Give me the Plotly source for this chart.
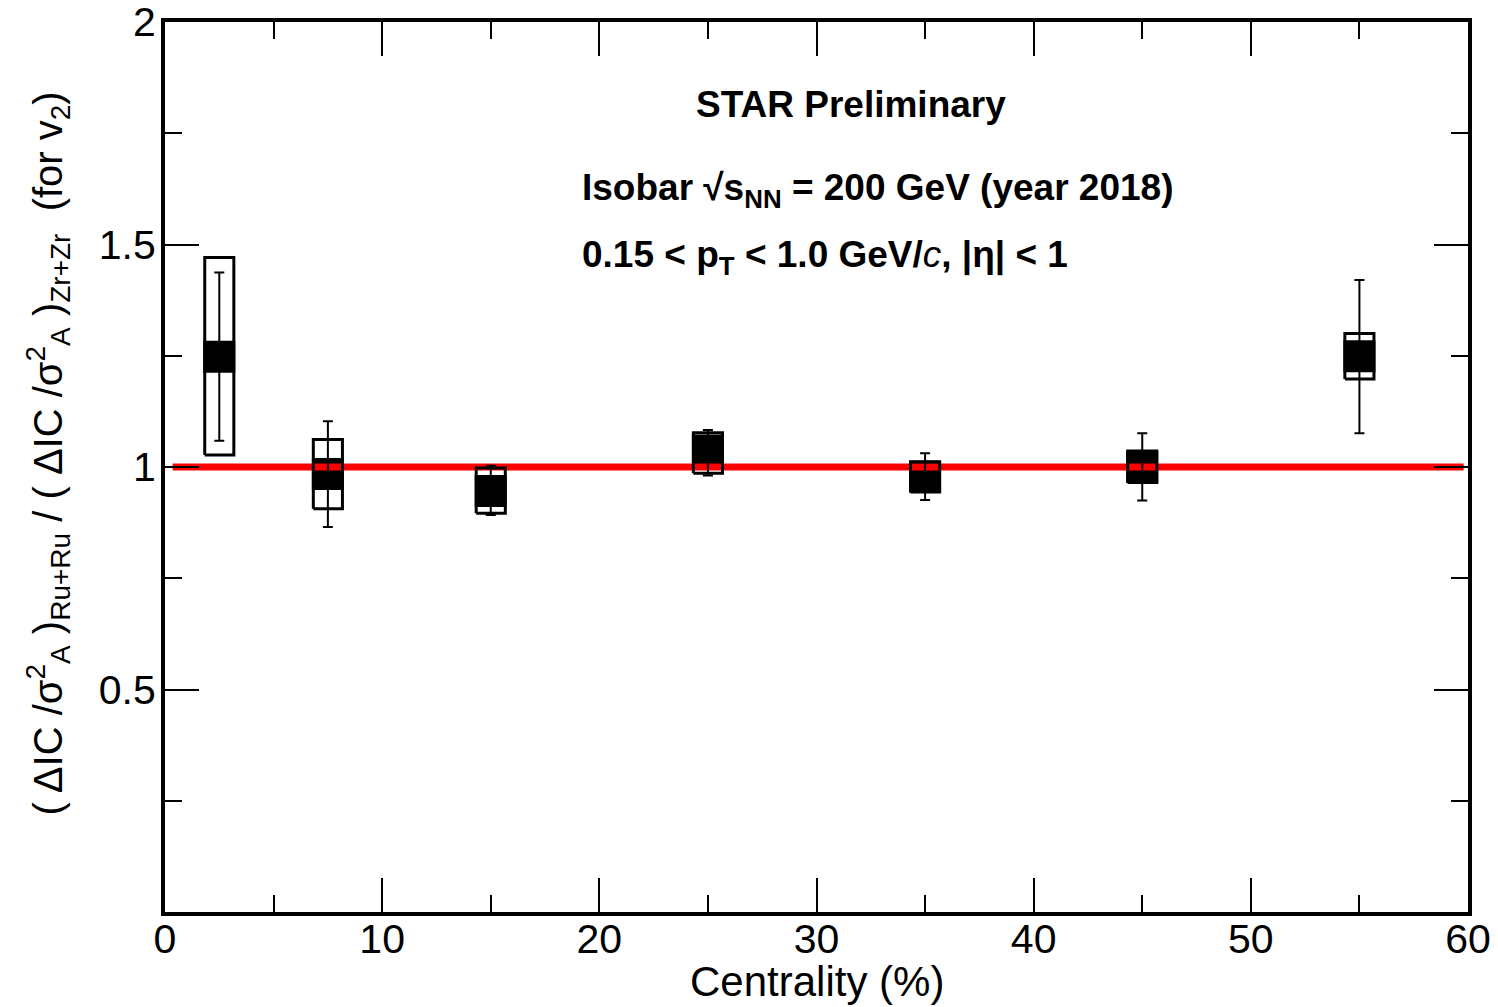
import plotly.graph_objects as go

# ---- data ----
centrality = [2.5, 7.5, 15, 25, 35, 45, 55]
ratio      = [1.248, 0.984, 0.946, 1.037, 0.978, 1.000, 1.249]
stat_up    = [1.437, 1.103, 1.003, 1.083, 1.031, 1.076, 1.420]
stat_dn    = [1.059, 0.865, 0.892, 0.981, 0.926, 0.925, 1.076]
sys_up     = [1.471, 1.062, 0.998, 1.077, 1.012, 1.036, 1.300]
sys_dn     = [1.027, 0.906, 0.896, 0.986, 0.944, 0.965, 1.198]
ref_x      = [0.35, 59.8]
ref_y      = [1.0, 1.0]

x_ticks = [0, 10, 20, 30, 40, 50, 60]
y_ticks = [0.5, 1, 1.5, 2]
y_tick_text = ["0.5", "1", "1.5", "2"]
y_minor = [0.25, 0.75, 1.25, 1.75]

box_hw = 0.67  # half-width of systematic boxes (x units)

FONT = "Liberation Sans, Arial, Helvetica, sans-serif"

fig = go.Figure()

# markers (filled squares)
fig.add_trace(go.Scatter(
    x=centrality, y=ratio, mode="markers",
    marker=dict(symbol="square", size=32, color="black", line=dict(width=0)),
    showlegend=False, hoverinfo="skip"))

# reference line at unity
fig.add_trace(go.Scatter(
    x=ref_x, y=ref_y, mode="lines",
    line=dict(color="#ff0000", width=7),
    showlegend=False, hoverinfo="skip"))

# systematic boxes (open rectangles)
bx, by = [], []
for xc, lo, hi in zip(centrality, sys_dn, sys_up):
    bx += [xc - box_hw, xc + box_hw, xc + box_hw, xc - box_hw, xc - box_hw, None]
    by += [lo, lo, hi, hi, lo, None]
fig.add_trace(go.Scatter(
    x=bx, y=by, mode="lines",
    line=dict(color="black", width=3),
    showlegend=False, hoverinfo="skip"))

# statistical error bars
fig.add_trace(go.Scatter(
    x=centrality, y=ratio, mode="markers",
    marker=dict(size=2, color="rgba(0,0,0,0)"),
    error_y=dict(type="data", symmetric=False,
                 array=[u - r for u, r in zip(stat_up, ratio)],
                 arrayminus=[r - d for r, d in zip(ratio, stat_dn)],
                 color="black", thickness=2, width=5),
    showlegend=False, hoverinfo="skip"))

# annotations
ann_font = dict(family=FONT, size=37, color="black")
fig.add_annotation(x=31.6, y=1.814, xref="x", yref="y",
                   text="<b>STAR Preliminary</b>", showarrow=False,
                   font=ann_font, xanchor="center", yanchor="middle")
fig.add_annotation(x=19.1, y=1.622, xref="x", yref="y",
                   text="<b>Isobar √s<sub>NN</sub> = 200 GeV (year 2018)</b>",
                   showarrow=False, font=ann_font,
                   xanchor="left", yanchor="middle")
fig.add_annotation(x=19.1, y=1.471, xref="x", yref="y",
                   text="<b>0.15 &lt; p<sub>T</sub> &lt; 1.0 GeV/</b><i>c</i><b>, |η| &lt; 1</b>",
                   showarrow=False, font=ann_font,
                   xanchor="left", yanchor="middle")

# axis titles (as paper annotations for exact placement)
fig.add_annotation(x=0.5, y=-0.078, xref="paper", yref="paper",
                   text="Centrality (%)", showarrow=False,
                   font=dict(family=FONT, size=42, color="black"),
                   xanchor="center", yanchor="middle")
fig.add_annotation(x=-0.09, y=0.515, xref="paper", yref="paper",
                   text="( ΔIC /σ<sup>2</sup><sub>A</sub> )<sub>Ru+Ru</sub> / ( ΔIC /σ<sup>2</sup><sub>A</sub> )<sub>Zr+Zr</sub>  (for v<sub>2</sub>)",
                   showarrow=False, textangle=-90,
                   font=dict(family=FONT, size=40, color="black"),
                   xanchor="center", yanchor="middle")

axis_common = dict(
    showgrid=False, zeroline=False, automargin=False,
    showline=True, linecolor="black", linewidth=4, mirror="allticks",
    ticks="inside", ticklen=34, tickwidth=2, tickcolor="black",
    ticklabeloverflow="allow",
    tickfont=dict(family=FONT, size=41, color="black"),
)

fig.update_layout(
    width=1498, height=1007,
    margin=dict(l=165, r=30, t=22, b=95),
    paper_bgcolor="white", plot_bgcolor="white",
    font=dict(family=FONT, color="black"),
    xaxis=dict(
        range=[0, 60], tickmode="array", tickvals=x_ticks,
        ticklabelstandoff=-12,
        minor=dict(dtick=5, tick0=0, ticks="inside", ticklen=17, tickwidth=2, tickcolor="black"),
        **axis_common),
    yaxis=dict(
        range=[0, 2], tickmode="array", tickvals=y_ticks, ticktext=y_tick_text,
        ticklabelstandoff=-3,
        minor=dict(tickmode="array", tickvals=y_minor, ticks="inside", ticklen=17, tickwidth=2, tickcolor="black"),
        **axis_common),
)

fig.write_html("out.html")
